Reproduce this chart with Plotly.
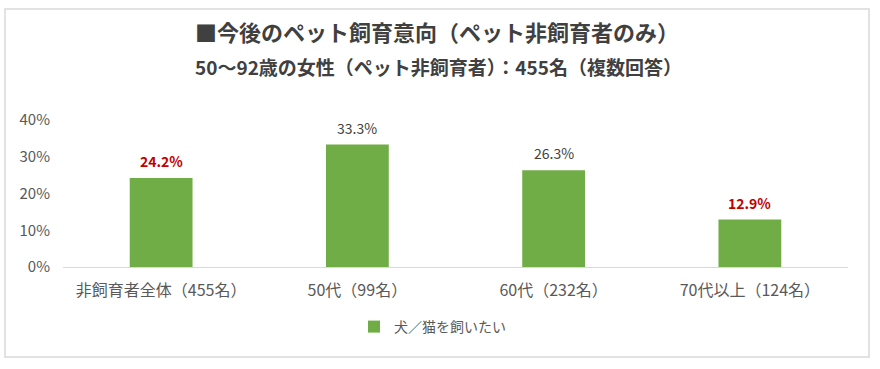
import plotly.graph_objects as go

categories = ["非飼育者全体（455名）", "50代（99名）", "60代（232名）", "70代以上（124名）"]
values = [24.2, 33.3, 26.3, 12.9]
highlighted = [True, False, False, True]
series_name = "犬／猫を飼いたい"
title = "■今後のペット飼育意向（ペット非飼育者のみ）"
subtitle = "50～92歳の女性（ペット非飼育者）：455名（複数回答）"

FONT = "Noto Sans CJK JP"

fig = go.Figure()
fig.add_trace(go.Bar(
    x=categories, y=[v / 100 for v in values],
    name=series_name,
    marker=dict(color="#70AD47", line=dict(width=0)),
    showlegend=True, hoverinfo="skip",
))

L, R, T, B = 63, 32, 120, 102
W, H = 880, 369
pw, ph = W - L - R, H - T - B

def px(x):
    return (x - L) / pw

def py(y):
    return (H - B - y) / ph

annotations = [
    dict(text=f"<b>{title}</b>", xref="paper", yref="paper", x=px(437), y=py(31),
         xanchor="center", yanchor="middle", showarrow=False,
         font=dict(size=22, color="#404040", family=FONT)),
    dict(text=f"<b>{subtitle}</b>", xref="paper", yref="paper", x=px(438), y=py(66),
         xanchor="center", yanchor="middle", showarrow=False,
         font=dict(size=19, color="#404040", family=FONT)),
]
for c, v, h in zip(categories, values, highlighted):
    annotations.append(dict(
        x=c, y=v / 100, xref="x", yref="y", yshift=17,
        text=f"<b>{v:.1f}%</b>" if h else f"{v:.1f}%",
        showarrow=False, xanchor="center", yanchor="middle",
        font=dict(size=14, family=FONT, color="#C00000" if h else "#404040"),
    ))

fig.update_layout(
    width=W, height=H,
    margin=dict(l=L, r=R, t=T, b=B, autoexpand=False),
    paper_bgcolor="white", plot_bgcolor="white",
    font=dict(family=FONT, color="#595959", size=14),
    bargap=0.68,
    showlegend=True,
    legend=dict(orientation="h", x=px(354), xanchor="left", y=py(327), yanchor="middle",
                font=dict(size=14, color="#595959", family=FONT),
                itemwidth=30),
    xaxis=dict(showline=True, linecolor="#D9D9D9", linewidth=1, ticks="",
               tickfont=dict(size=16, color="#595959"), showgrid=False, fixedrange=True,
               ticklabelstandoff=9),
    yaxis=dict(range=[0, 0.4], tickvals=[0, 0.1, 0.2, 0.3, 0.4], tickformat=".0%",
               showgrid=False, zeroline=False, showline=False, fixedrange=True,
               tickfont=dict(size=15, color="#595959"), ticklabelstandoff=12),
    shapes=[dict(type="rect", xref="paper", yref="paper",
                 x0=px(5), x1=px(869), y0=py(357), y1=py(9),
                 line=dict(color="#D9D9D9", width=1.5), fillcolor="rgba(0,0,0,0)", layer="below")],
    annotations=annotations,
)

fig.write_html("out.html", config={"displayModeBar": False},
               post_script="document.body.style.margin='0';")
